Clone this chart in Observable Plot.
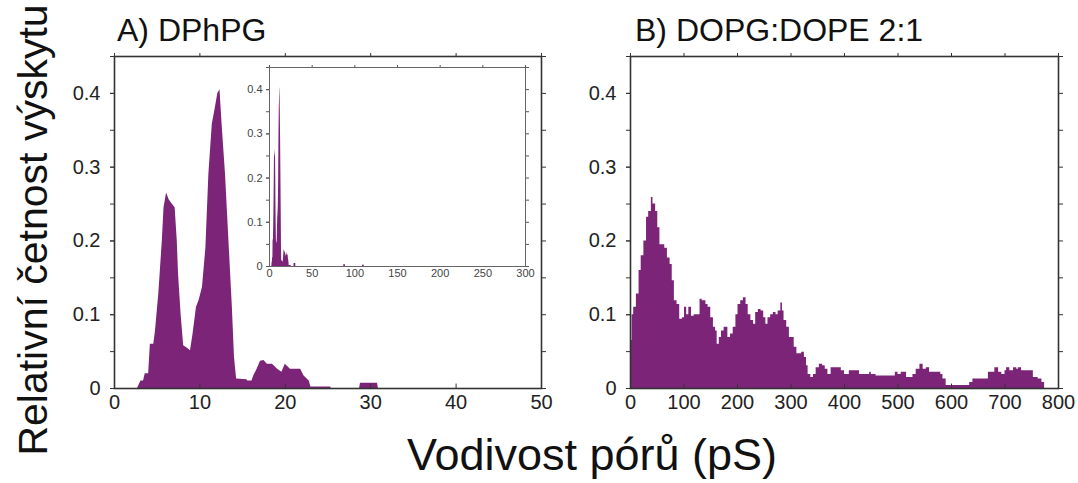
<!DOCTYPE html>
<html>
<head>
<meta charset="utf-8">
<script src="https://cdn.jsdelivr.net/npm/d3@7"></script>
<script src="https://cdn.jsdelivr.net/npm/@observablehq/plot@0.6"></script>
<style>
  html, body { margin: 0; padding: 0; background: white; }
  #wrap { position: relative; width: 1078px; height: 483px; overflow: hidden; background: white; font-family: "Liberation Sans", Arial, sans-serif; }
  #wrap > svg, #wrap > div { position: absolute; }
</style>
</head>
<body>
<div id="wrap"></div>
<script>
// ---------- data ----------
const titleA = "A) DPhPG";
const titleB = "B) DOPG:DOPE 2:1";
const yLabel = "Relativní četnost výskytu";
const xLabel = "Vodivost pórů (pS)";

// Panel A: conductance (pS) and relative frequency
const A_x = [2.7, 2.85, 3.1, 3.4, 3.6, 4.0, 4.2, 4.6, 4.8, 5.2,
             5.6, 5.8, 6.1, 6.4, 6.75, 7.1, 7.35, 7.5, 7.8, 8.1,
             8.5, 8.9, 9.2, 9.6, 9.9, 10.3, 10.7, 11.05, 11.45, 11.8,
             12.1, 12.35, 12.6, 13.0, 13.4, 13.8, 14.05, 14.3, 15.5, 15.6,
             16.1, 16.3, 16.7, 17.1, 17.5, 17.9, 18.5, 19.1, 19.6, 20.0,
             20.6, 21.2, 21.8, 22.2, 22.8, 23.0, 25.3, 25.4, 28.7, 28.8,
             30.8, 30.9];
const A_y = [0, 0.004, 0.01, 0.01, 0.02, 0.02, 0.06, 0.06, 0.078, 0.13,
             0.2, 0.245, 0.265, 0.256, 0.25, 0.245, 0.2, 0.155, 0.10, 0.058,
             0.055, 0.051, 0.074, 0.11, 0.119, 0.137, 0.19, 0.29, 0.358, 0.38,
             0.4, 0.405, 0.358, 0.29, 0.2, 0.11, 0.042, 0.013, 0.012, 0.01,
             0.01, 0.017, 0.026, 0.037, 0.038, 0.033, 0.033, 0.026, 0.022, 0.033,
             0.026, 0.026, 0.026, 0.017, 0.01, 0.002, 0.002, 0, 0, 0.007,
             0.007, 0];
// tiny isolated counts visible only in the inset (0-300 pS)
const inset_x = [88, 110];
const inset_y = [0.004, 0.003];

// Panel B
const B_x = [0, 3, 6, 11, 16, 20, 25, 30, 34, 39,
             42, 47, 51, 55, 59, 64, 69, 74, 78, 82,
             87, 92, 97, 101, 105, 109, 114, 119, 125, 130,
             134, 141, 145, 150, 155, 159, 162, 166, 170, 175,
             180, 182, 187, 192, 197, 201, 206, 211, 216, 220,
             225, 230, 234, 239, 244, 249, 253, 257, 262, 267,
             272, 276, 281, 284, 287, 292, 297, 301, 306, 311,
             316, 320, 325, 329, 332, 337, 342, 347, 353, 359,
             364, 369, 375, 394, 400, 409, 428, 447, 450, 459,
             495, 500, 506, 516, 528, 534, 541, 547, 553, 559,
             580, 584, 590, 634, 640, 669, 681, 688, 694, 700,
             703, 709, 716, 722, 725, 731, 753, 762, 769, 774];
const B_y = [0.065, 0.100, 0.110, 0.128, 0.160, 0.180, 0.200, 0.232, 0.240, 0.259,
             0.250, 0.240, 0.218, 0.195, 0.195, 0.190, 0.177, 0.168, 0.146, 0.119,
             0.114, 0.094, 0.096, 0.110, 0.100, 0.110, 0.098, 0.100, 0.100, 0.121,
             0.119, 0.114, 0.110, 0.096, 0.083, 0.078, 0.060, 0.069, 0.078, 0.083,
             0.083, 0.069, 0.074, 0.083, 0.100, 0.114, 0.119, 0.123, 0.114, 0.100,
             0.092, 0.087, 0.103, 0.107, 0.105, 0.096, 0.087, 0.096, 0.100, 0.103,
             0.100, 0.105, 0.116, 0.105, 0.092, 0.083, 0.069, 0.069, 0.056, 0.047,
             0.047, 0.049, 0.042, 0.031, 0.019, 0.015, 0.019, 0.028, 0.033, 0.031,
             0.026, 0.019, 0.028, 0.024, 0.019, 0.024, 0.019, 0.022, 0.019, 0.017,
             0.022, 0.019, 0.022, 0.015, 0.019, 0.026, 0.033, 0.026, 0.028, 0.022,
             0.019, 0.013, 0.004, 0.008, 0.013, 0.022, 0.028, 0.022, 0.019, 0.024,
             0.028, 0.024, 0.028, 0.026, 0.028, 0.024, 0.015, 0.013, 0.008, 0];

// ticks
const yMinor = [0, 0.05, 0.1, 0.15, 0.2, 0.25, 0.3, 0.35, 0.4, 0.45];
const yMajor = [0, 0.1, 0.2, 0.3, 0.4];
const yMajorLabels = ["0", "0.1", "0.2", "0.3", "0.4"];
const xTicksA = [0, 10, 20, 30, 40, 50];
const xTicksB = [0, 100, 200, 300, 400, 500, 600, 700, 800];
const xTicksInset = [0, 50, 100, 150, 200, 250, 300];

// ---------- drawing ----------
const purple = "#7b2478";
const wrap = document.getElementById("wrap");
const font = "'Liberation Sans', Arial, sans-serif";

const rows = (xs, ys) => xs.map((x, i) => ({x, y: ys[i]}));

function panel({xDomain, xTicks, data, curve, width, marginLeft, marginRight, left}) {
  const p = Plot.plot({
    width, height: 377,
    marginLeft, marginRight, marginTop: 10, marginBottom: 35,
    x: {domain: xDomain, label: null},
    y: {domain: [0, 0.45], label: null},
    style: {fontFamily: font, background: "transparent", color: "#222", overflow: "visible"},
    marks: [
      Plot.areaY(data, {x: "x", y: "y", fill: purple, curve}),
      Plot.axisY(yMinor, {anchor: "left", tickSize: 4, text: null, stroke: "#333"}),
      Plot.axisY(yMajor, {anchor: "left", tickSize: 4, tickPadding: 10, fontSize: 20, tickFormat: (d, i) => yMajorLabels[i], stroke: "#333"}),
      Plot.axisY(yMinor, {anchor: "right", tickSize: 4, text: null, stroke: "#333"}),
      Plot.axisX(xTicks, {anchor: "top", tickSize: 4, text: null, stroke: "#333"}),
      Plot.axisX(xTicks, {anchor: "bottom", tickSize: 0, tickPadding: 6, fontSize: 20, tickFormat: d => String(d)}),
      Plot.ruleX(xTicks, {y1: 0, y2: 0.006, stroke: "#333"}),
      Plot.frame({stroke: "#333", strokeWidth: 1.6})
    ]
  });
  p.style.left = left + "px";
  p.style.top = "46px";
  wrap.appendChild(p);
}

panel({xDomain: [0, 50], xTicks: xTicksA, data: rows(A_x, A_y), curve: "linear",
       width: 487, marginLeft: 50, marginRight: 10, left: 64});
panel({xDomain: [0, 800], xTicks: xTicksB, data: rows(B_x, B_y), curve: "step-after",
       width: 498, marginLeft: 50, marginRight: 20, left: 580});

// inset
const inset = Plot.plot({
  width: 301, height: 224,
  marginLeft: 30, marginRight: 15, marginTop: 5, marginBottom: 20,
  x: {domain: [0, 300], label: null},
  y: {domain: [0, 0.45], label: null},
  style: {fontFamily: font, background: "transparent", color: "#444", overflow: "visible"},
  marks: [
    Plot.frame({fill: "white"}),
    Plot.areaY(rows(A_x, A_y), {x: "x", y: "y", fill: purple}),
    Plot.rectY(rows(inset_x, inset_y), {x1: d => d.x - 1, x2: d => d.x + 1, y: "y", fill: purple}),
    Plot.axisY(yMinor, {anchor: "left", tickSize: 3, text: null, stroke: "#555"}),
    Plot.axisY(yMajor, {anchor: "left", tickSize: 3, tickPadding: 4, fontSize: 11, tickFormat: (d, i) => yMajorLabels[i], stroke: "#555"}),
    Plot.axisY(yMinor, {anchor: "right", tickSize: 3, text: null, stroke: "#555"}),
    Plot.axisX(xTicksInset, {anchor: "top", tickSize: 3, text: null, stroke: "#555"}),
    Plot.axisX(xTicksInset, {anchor: "bottom", tickSize: 0, tickPadding: 3, fontSize: 11, tickFormat: d => String(d)}),
    Plot.frame({stroke: "#666", strokeWidth: 1})
  ]
});
inset.style.left = "239px";
inset.style.top = "62px";
wrap.appendChild(inset);

// text overlay
const ns = "http://www.w3.org/2000/svg";
const ov = document.createElementNS(ns, "svg");
ov.setAttribute("width", 1078);
ov.setAttribute("height", 483);
ov.style.left = "0px"; ov.style.top = "0px"; ov.style.pointerEvents = "none";
function txt(s, attrs) {
  const t = document.createElementNS(ns, "text");
  for (const k in attrs) t.setAttribute(k, attrs[k]);
  t.setAttribute("font-family", font);
  t.setAttribute("fill", "#111");
  t.textContent = s;
  ov.appendChild(t);
}
txt(titleA, {x: 117, y: 41, "font-size": 32});
txt(titleB, {x: 635, y: 41, "font-size": 32});
txt(yLabel, {transform: "translate(47,230) rotate(-90)", "text-anchor": "middle", "font-size": 41});
txt(xLabel, {x: 592, y: 470, "text-anchor": "middle", "font-size": 45});
wrap.appendChild(ov);
</script>
</body>
</html>
